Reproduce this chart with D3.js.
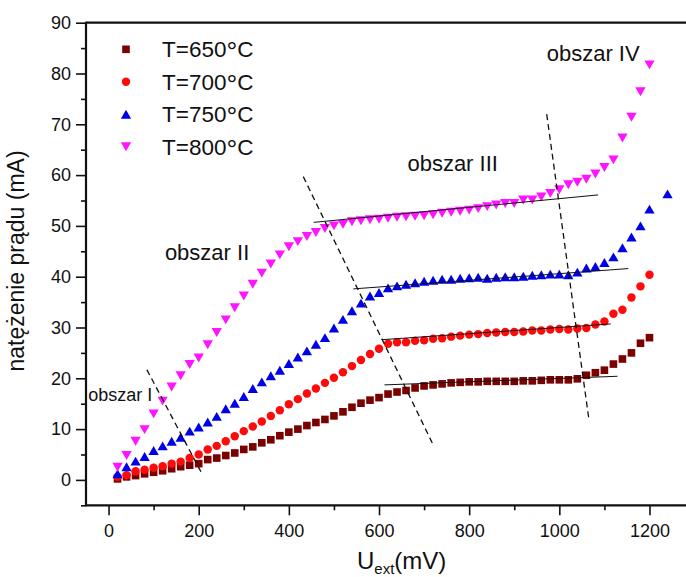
<!DOCTYPE html>
<html><head><meta charset="utf-8">
<script src="https://cdn.jsdelivr.net/npm/d3@7"></script>
<style>
body{margin:0;background:#fff}
svg{display:block}
text{font-family:Arial,"Liberation Sans",sans-serif;fill:#111}
</style>
</head><body>
<svg id="chart" width="686" height="577"></svg>
<script>
// ---------------- data ----------------
const uExt = [20,40,60,80,100,120,140,160,180,200,220,240,260,280,300,320,340,360,380,400,
  420,440,460,480,500,520,540,560,580,600,620,640,660,680,700,720,740,760,780,800,
  820,840,860,880,900,920,940,960,980,1000,1020,1040,1060,1080,1100,1120,1140,1160,1180,1200];
const uExt750 = [20,40,60,80,100,120,140,160,180,200,220,240,260,280,300,320,340,360,380,400,
  420,440,460,480,500,520,540,560,580,600,620,640,660,680,700,720,740,760,780,800,
  820,840,860,880,900,920,940,960,980,1000,1020,1040,1060,1080,1100,1120,1140,1160,1180,1200,1240];

const i650 = [0.2,0.6,0.85,1.2,1.5,1.8,2.2,2.6,2.9,3.2,4.0,4.3,4.8,5.3,6.0,6.5,7.3,7.9,8.7,9.4,
  10.0,10.7,11.3,11.9,12.6,13.4,14.3,15.1,15.7,16.2,16.9,17.3,17.6,18.1,18.5,18.7,18.9,19.1,19.2,19.3,
  19.3,19.4,19.4,19.4,19.4,19.5,19.5,19.6,19.7,19.7,19.7,19.9,20.6,21.1,21.6,22.8,23.8,25.0,26.9,28.0];
const i700 = [0.6,0.9,1.7,2.0,2.4,2.7,3.2,3.6,4.3,5.0,6.0,6.7,7.6,8.6,9.6,10.5,11.5,12.6,13.7,14.9,
  15.9,17.0,18.0,19.1,20.1,21.2,22.4,23.6,24.8,25.8,26.8,27.1,27.1,27.4,27.5,27.8,27.9,28.2,28.4,28.6,
  28.7,28.9,29.0,29.1,29.1,29.2,29.4,29.4,29.6,29.7,29.6,29.8,29.9,30.6,31.2,32.7,33.5,35.9,38.1,40.4];
const i750 = [1.2,2.6,3.7,4.6,5.8,6.7,7.6,8.4,9.6,10.4,11.4,12.5,14.0,15.1,16.4,18.0,19.3,20.5,21.6,22.9,
  24.2,25.4,26.7,28.0,29.9,31.6,33.3,34.8,36.2,36.9,37.8,38.2,38.5,38.8,39.1,39.3,39.5,39.5,39.7,39.8,
  39.9,39.7,39.9,40.0,40.0,40.1,40.3,40.4,40.5,40.5,40.4,40.9,41.7,42.0,42.8,43.9,45.7,47.8,50.0,53.3,56.3];
const i800 = [2.5,4.8,7.6,9.9,13.0,15.5,18.3,20.5,22.7,24.0,26.6,29.0,31.5,33.9,36.2,38.5,40.7,42.5,44.3,45.9,
  46.9,47.9,48.7,49.5,50.0,50.3,50.8,51.0,51.2,51.3,51.5,51.7,51.8,51.9,52.0,52.2,52.5,52.7,52.9,53.1,
  53.4,53.8,54.1,54.4,54.4,55.1,55.1,55.7,56.4,57.1,58.1,58.6,59.2,60.2,61.5,63.0,67.3,71.4,76.4,81.7];

const seriesNames = ["T=650°C","T=700°C","T=750°C","T=800°C"];

// tangent (fit) lines, [u, I] endpoints
const fitLines = [
  [[612,18.7],[1129,20.4]],
  [[606,27.6],[1114,30.7]],
  [[543,37.6],[1153,41.6]],
  [[455,50.7],[1086,56.1]]
];
// region boundaries (dashed)
const boundaries = [
  [[85,21.7],[205,1.6]],
  [[432,59.7],[719,7.1]],
  [[972,72.0],[1065,12.3]]
];
const regionLabels = ["obszar I","obszar II","obszar III","obszar IV"];
const regionAt = [[-45,15.5],[125,43.3],[663,60.8],[972,82.5]];

const xMajor = [0,200,400,600,800,1000,1200];
const xMinor = [100,300,500,700,900,1100];
const yMajor = [0,10,20,30,40,50,60,70,80,90];
const yMinor = [-5,5,15,25,35,45,55,65,75,85];

// ---------------- chart ----------------
const svg = d3.select("#chart");
const x = d3.scaleLinear().domain([-50,1281]).range([86,686]);
const y = d3.scaleLinear().domain([-5,90]).range([505.3,22.7]);

const series = [
  {name:seriesNames[0], u:uExt,    v:i650, color:"#7b0000", shape:"square"},
  {name:seriesNames[1], u:uExt,    v:i700, color:"#ff0a0a", shape:"circle"},
  {name:seriesNames[2], u:uExt750, v:i750, color:"#0000e6", shape:"up"},
  {name:seriesNames[3], u:uExt,    v:i800, color:"#ff14ff", shape:"down"}
];

const TRI = 46;
function symPath(shape){
  if(shape==="square") return d3.symbol(d3.symbolSquare, 58)();
  if(shape==="circle") return d3.symbol(d3.symbolCircle, 56)();
  return d3.symbol(d3.symbolTriangle, TRI)();
}
const triOff = Math.sqrt(TRI/(Math.sqrt(3)*3))/2;
function symTransform(shape, px, py){
  if(shape==="up") return `translate(${px},${py+triOff})`;
  if(shape==="down") return `translate(${px},${py-triOff}) rotate(180)`;
  return `translate(${px},${py})`;
}

// axes ticks
function styleAxis(g){
  g.select(".domain").remove();
  g.selectAll("line").attr("stroke","#111").attr("stroke-width",1.6);
  g.attr("font-family","Arial, 'Liberation Sans', sans-serif").attr("font-size",18).attr("color","#111");
}
svg.append("g").attr("transform","translate(86,0)")
  .call(d3.axisLeft(y).tickValues(yMajor).tickSize(10).tickPadding(5).tickFormat(d3.format("d"))).call(styleAxis);
svg.append("g").attr("transform","translate(86,0)")
  .call(d3.axisLeft(y).tickValues(yMinor).tickSize(5).tickFormat("")).call(styleAxis);
svg.append("g").attr("transform","translate(0,505.3)")
  .call(d3.axisBottom(x).tickValues(xMajor).tickSize(10).tickPadding(9).tickFormat(d3.format("d"))).call(styleAxis);
svg.append("g").attr("transform","translate(0,505.3)")
  .call(d3.axisBottom(x).tickValues(xMinor).tickSize(5).tickFormat("")).call(styleAxis);

// frame lines
const frame = svg.append("g").attr("stroke","#111").attr("stroke-width",2.2).attr("fill","none");
frame.append("line").attr("x1",86).attr("x2",86).attr("y1",y(90)-1).attr("y2",y(-5)+1);
frame.append("line").attr("x1",86).attr("x2",686).attr("y1",y(-5)).attr("y2",y(-5));
frame.append("line").attr("x1",86).attr("x2",686).attr("y1",y(90)).attr("y2",y(90));

// markers
series.forEach(s=>{
  svg.append("g").selectAll("path").data(s.u.map((u,i)=>[u,s.v[i]])).join("path")
    .attr("d",symPath(s.shape))
    .attr("transform",d=>symTransform(s.shape,x(d[0]),y(d[1])))
    .attr("fill",s.color);
});

// fit lines
svg.append("g").selectAll("line").data(fitLines).join("line")
  .attr("x1",d=>x(d[0][0])).attr("y1",d=>y(d[0][1]))
  .attr("x2",d=>x(d[1][0])).attr("y2",d=>y(d[1][1]))
  .attr("stroke","#111").attr("stroke-width",1);
svg.append("g").selectAll("line").data(boundaries).join("line")
  .attr("x1",d=>x(d[0][0])).attr("y1",d=>y(d[0][1]))
  .attr("x2",d=>x(d[1][0])).attr("y2",d=>y(d[1][1]))
  .attr("stroke","#111").attr("stroke-width",1.3).attr("stroke-dasharray","6,4");

// region labels
svg.append("g").selectAll("text").data(regionLabels).join("text")
  .attr("x",(d,i)=>x(regionAt[i][0])).attr("y",(d,i)=>y(regionAt[i][1]))
  .attr("font-size",(d,i)=>i===0?18:22)
  .text(d=>d);

// legend
const leg = svg.append("g");
series.forEach((s,i)=>{
  const cy = 49.3 + i*32.5;
  leg.append("path").attr("d",symPath(s.shape)).attr("transform",symTransform(s.shape,126,cy)).attr("fill",s.color);
  const t = leg.append("text").attr("x",162).attr("y",cy+8).attr("font-size",22.5);
  const m = s.name.match(/^(.*?)(°)(C)$/);
  t.append("tspan").text(m[1]);
  t.append("tspan").text(m[2]).attr("dy",4).attr("font-size",27);
  t.append("tspan").text(m[3]).attr("dy",-4);
});

// axis titles
svg.append("text").attr("transform","translate(24,261) rotate(-90)")
  .attr("text-anchor","middle").attr("font-size",23).text("natężenie prądu (mA)");
const xt = svg.append("text").attr("x",357).attr("y",569).attr("font-size",24);
xt.append("tspan").text("U");
xt.append("tspan").text("ext").attr("font-size",15).attr("dy",5);
xt.append("tspan").text("(mV)").attr("dy",-5);
</script>
</body></html>
